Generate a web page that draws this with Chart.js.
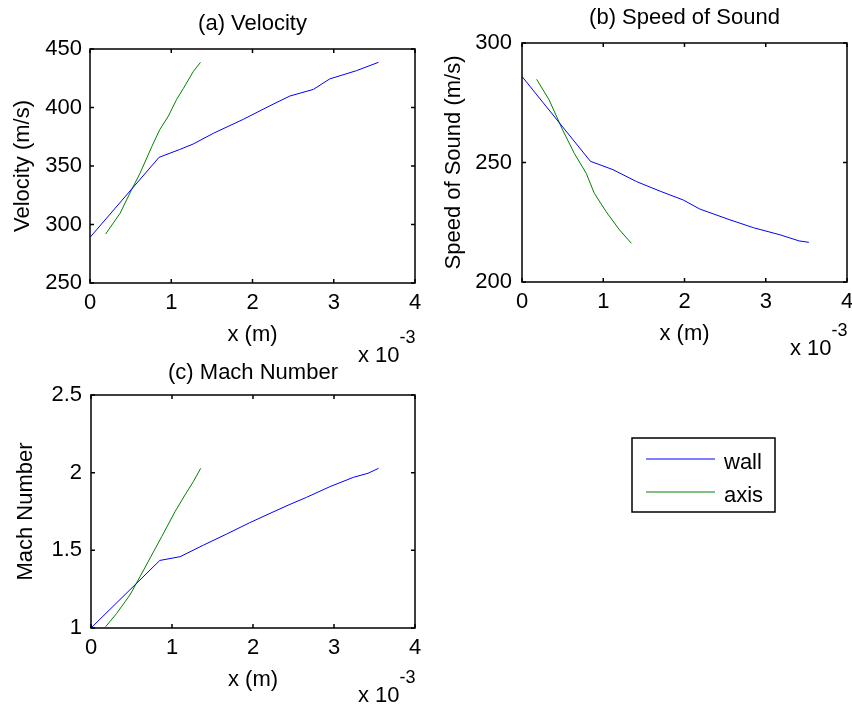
<!DOCTYPE html>
<html><head><meta charset="utf-8">
<script src="https://cdn.jsdelivr.net/npm/chart.js@4/dist/chart.umd.min.js"></script>
<style>
html,body{margin:0;padding:0;background:#fff;}
body{width:852px;height:704px;position:relative;overflow:hidden;}
canvas{position:absolute;}
</style></head><body>
<canvas id="ca" width="430" height="370" style="left:0;top:0"></canvas>
<canvas id="cb" width="422" height="370" style="left:430px;top:0"></canvas>
<canvas id="cc" width="852" height="354" style="left:0;top:350px"></canvas>
<script>
const FONT = '"Liberation Sans", Arial, Helvetica, sans-serif';

// ---- data (x in units of 1e-3 m) ----
const seriesNames = ['wall', 'axis'];
const seriesColors = ['#0000ff', '#008000'];
const xTicks = [0, 1, 2, 3, 4];
const xTickLabels = ['0', '1', '2', '3', '4'];
const xExponent = '-3';

const velWallX = [0, 0.85, 1.1, 1.27, 1.52, 1.89, 2.215, 2.46, 2.75, 2.95, 3.28, 3.55];
const velWallY = [289, 357.4, 364, 368.8, 378, 390, 401.5, 409.8, 415.5, 424.4, 431.5, 438.6];
const velAxisX = [0.193, 0.37, 0.51, 0.615, 0.76, 0.86, 0.965, 1.067, 1.15, 1.27, 1.36];
const velAxisY = [291.9, 309.6, 329.5, 343.7, 366.5, 381.3, 392.7, 407, 416.4, 430.6, 438.6];
const velTicks = [250, 300, 350, 400, 450];
const velTickLabels = ['250', '300', '350', '400', '450'];

const sosWallX = [0, 0.842, 1.12, 1.41, 1.70, 1.985, 2.19, 2.56, 2.85, 3.18, 3.41, 3.53];
const sosWallY = [286, 250.5, 247, 242, 238, 234.3, 230.5, 226, 222.7, 219.7, 217.2, 216.6];
const sosAxisX = [0.18, 0.334, 0.5, 0.644, 0.79, 0.89, 1.036, 1.2, 1.346];
const sosAxisY = [284.8, 276.2, 263.6, 253.8, 245.5, 237.1, 229.4, 221.8, 216.2];
const sosTicks = [200, 250, 300];
const sosTickLabels = ['200', '250', '300'];

const machWallX = [0, 0.85, 1.1, 1.39, 1.675, 1.96, 2.21, 2.457, 2.66, 2.95, 3.24, 3.42, 3.55];
const machWallY = [1.0, 1.435, 1.459, 1.534, 1.605, 1.678, 1.738, 1.796, 1.841, 1.91, 1.97, 1.996, 2.028];
const machAxisX = [0.18, 0.317, 0.48, 0.605, 0.75, 0.873, 1.037, 1.16, 1.263, 1.354];
const machAxisY = [1.008, 1.094, 1.212, 1.33, 1.47, 1.588, 1.749, 1.856, 1.942, 2.028];
const machTicks = [1, 1.5, 2, 2.5];
const machTickLabels = ['1', '1.5', '2', '2.5'];

Chart.defaults.font.family = FONT;
Chart.defaults.color = '#000';

const pts = (xs, ys) => xs.map((v, i) => ({x: v, y: ys[i]}));

const framePlugin = {
  id: 'frame',
  afterDatasetsDraw(chart, args, opts) {
    const {ctx, chartArea: a, scales: {x, y}} = chart;
    ctx.save();
    ctx.strokeStyle = '#000';
    ctx.lineWidth = 1.5;
    ctx.strokeRect(a.left, a.top, a.right - a.left, a.bottom - a.top);
    const L = 4;
    ctx.beginPath();
    x.ticks.forEach(t => {
      const p = x.getPixelForValue(t.value);
      ctx.moveTo(p, a.bottom); ctx.lineTo(p, a.bottom - L);
      ctx.moveTo(p, a.top); ctx.lineTo(p, a.top + L);
    });
    y.ticks.forEach(t => {
      const p = y.getPixelForValue(t.value);
      ctx.moveTo(a.left, p); ctx.lineTo(a.left + L, p);
      ctx.moveTo(a.right, p); ctx.lineTo(a.right - L, p);
    });
    ctx.stroke();
    // exponent label "x 10^-3"
    ctx.fillStyle = '#000';
    ctx.textBaseline = 'alphabetic';
    ctx.textAlign = 'left';
    const ex = a.right + opts.expDx, ey = a.bottom + opts.expDy;
    ctx.font = '22px ' + FONT;
    ctx.fillText('x 10', ex, ey);
    const w = ctx.measureText('x 10').width;
    ctx.font = '18px ' + FONT;
    ctx.fillText(xExponent, ex + w, ey - 19);
    // legend
    if (opts.legend) {
      const g = opts.legend;
      ctx.fillStyle = '#fff';
      ctx.fillRect(g.x, g.y, g.w, g.h);
      ctx.lineWidth = 1.5;
      ctx.strokeStyle = '#000';
      ctx.strokeRect(g.x, g.y, g.w, g.h);
      chart.data.datasets.forEach((ds, i) => {
        const ly = g.y + g.row0 + i * g.rowH;
        ctx.strokeStyle = ds.borderColor;
        ctx.lineWidth = 1;
        ctx.beginPath();
        ctx.moveTo(g.x + 14, ly + 0.5);
        ctx.lineTo(g.x + 83, ly + 0.5);
        ctx.stroke();
        ctx.fillStyle = '#000';
        ctx.font = '22px ' + FONT;
        ctx.fillText(ds.label, g.x + 92, ly + 10);
      });
    }
    ctx.restore();
  }
};

function makeChart(id, c) {
  return new Chart(document.getElementById(id), {
    type: 'line',
    data: {
      datasets: c.series.map((s, i) => ({
        label: seriesNames[i],
        data: pts(s[0], s[1]),
        borderColor: seriesColors[i],
        backgroundColor: seriesColors[i],
        borderWidth: 1,
        pointRadius: 0,
        fill: false,
        tension: 0
      }))
    },
    options: {
      responsive: false,
      animation: false,
      devicePixelRatio: 1,
      layout: {padding: {left: 0, top: 0, right: c.padRight, bottom: c.padBottom}},
      plugins: {
        legend: {display: false},
        tooltip: {enabled: false},
        title: {
          display: true, text: c.title, color: '#000', fullSize: false,
          font: {family: FONT, size: 22, weight: 'normal', lineHeight: 1.2},
          padding: {top: c.tTop, bottom: c.tBottom}
        },
        frame: {expDx: -57, expDy: c.expDy, legend: c.legend || null}
      },
      scales: {
        x: {
          type: 'linear', min: 0, max: 4,
          grid: {display: false, drawTicks: false},
          border: {display: false},
          ticks: {color: '#000', font: {family: FONT, size: 22}, padding: 7, autoSkip: false, maxRotation: 0,
                  callback: (v, i) => xTickLabels[i]},
          afterBuildTicks: s => { s.ticks = xTicks.map(v => ({value: v})); },
          afterFit: s => { s.height = c.xH; s.paddingLeft = 0; s.paddingRight = 0; },
          title: {display: true, text: 'x (m)', color: '#000', font: {family: FONT, size: 22, lineHeight: 1.2},
                  padding: {top: 0, bottom: c.xtPad}}
        },
        y: {
          type: 'linear', min: c.yTicks[0], max: c.yTicks[c.yTicks.length - 1],
          grid: {display: false, drawTicks: false},
          border: {display: false},
          ticks: {color: '#000', font: {family: FONT, size: 22}, padding: c.yPad, autoSkip: false,
                  callback: (v, i) => c.yLabels[i]},
          afterBuildTicks: s => { s.ticks = c.yTicks.map(v => ({value: v})); },
          afterFit: s => { s.width = c.yW; s.paddingTop = 0; s.paddingBottom = 0; },
          title: {display: true, text: c.yTitle, color: '#000', font: {family: FONT, size: 22, lineHeight: 1.2},
                  padding: {top: c.ytPad, bottom: 0}}
        }
      }
    },
    plugins: [framePlugin]
  });
}

makeChart('ca', {
  title: '(a) Velocity', tTop: 10.8, tBottom: 11.8, padRight: 15, padBottom: 20,
  series: [[velWallX, velWallY], [velAxisX, velAxisY]],
  yTicks: velTicks, yLabels: velTickLabels, yTitle: 'Velocity (m/s)',
  yW: 90, yPad: 8, ytPad: 9.8, xH: 67, xtPad: 1.8, expDy: 79
});
makeChart('cb', {
  title: '(b) Speed of Sound', tTop: 4.8, tBottom: 11.8, padRight: 5, padBottom: 20,
  series: [[sosWallX, sosWallY], [sosAxisX, sosAxisY]],
  yTicks: sosTicks, yLabels: sosTickLabels, yTitle: 'Speed of Sound (m/s)',
  yW: 92, yPad: 10, ytPad: 10.8, xH: 68, xtPad: 2.8, expDy: 73
});
makeChart('cc', {
  title: '(c) Mach Number', tTop: 9.8, tBottom: 8.8, padRight: 437, padBottom: 0,
  series: [[machWallX, machWallY], [machAxisX, machAxisY]],
  yTicks: machTicks, yLabels: machTickLabels, yTitle: 'Mach Number',
  yW: 91, yPad: 9, ytPad: 12.5, xH: 76, xtPad: 10.8, expDy: 74,
  legend: {x: 632, y: 88, w: 143, h: 74, row0: 20.5, rowH: 33}
});
</script>
</body></html>
